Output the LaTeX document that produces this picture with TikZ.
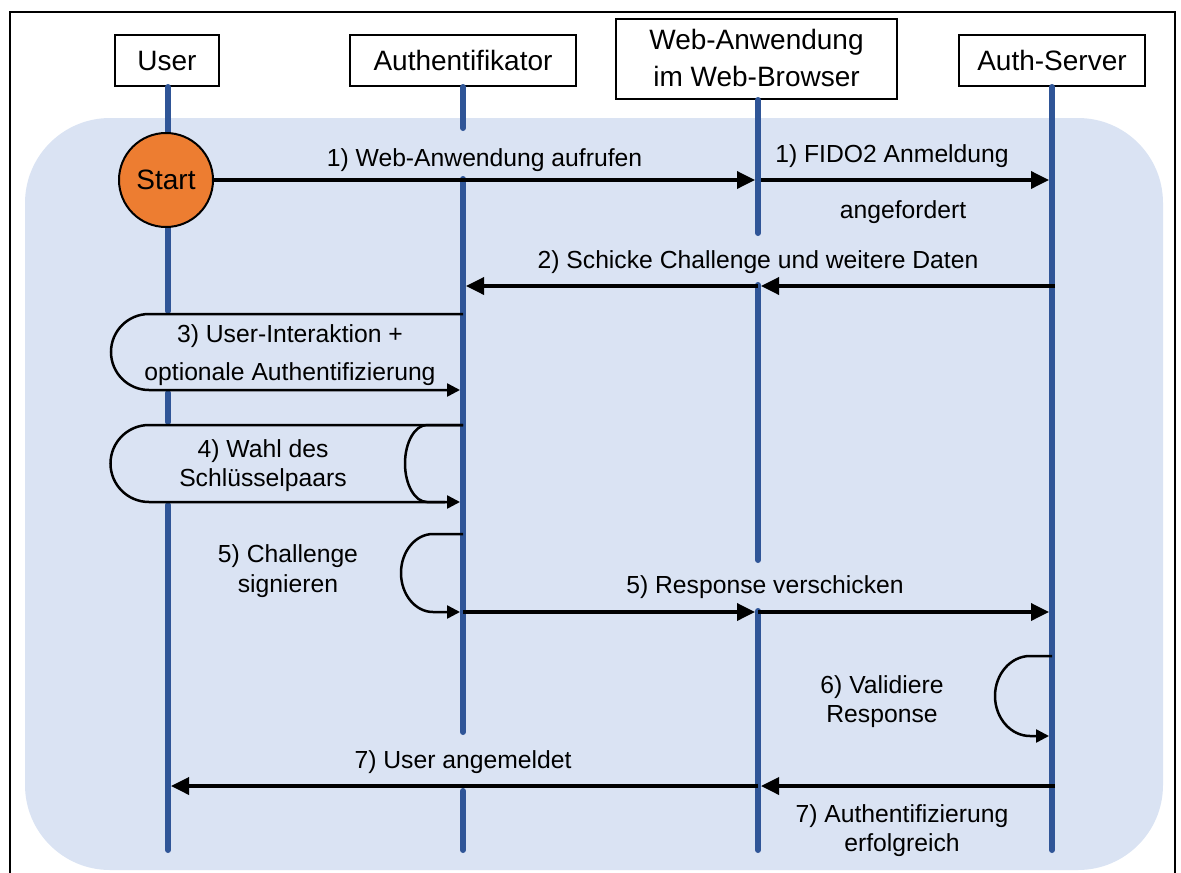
\documentclass[tikz,border=0pt]{standalone}
\usepackage{fontspec}
\setmainfont{Liberation Sans}
\usetikzlibrary{arrows.meta}
\definecolor{bgblue}{HTML}{DAE3F3}
\definecolor{lifeblue}{HTML}{2F5597}
\definecolor{startorange}{HTML}{ED7D31}
\tikzset{
  head/.style={draw, line width=2pt, fill=white, inner sep=0pt, font=\fontsize{28}{32}\selectfont},
  htext/.style={inner sep=0pt, anchor=base, font=\fontsize{28}{32}\selectfont},
  lbl/.style={inner sep=0pt, anchor=base, font=\fontsize{24.7}{29}\selectfont},
  life/.style={draw=lifeblue, line width=6pt, line cap=round},
  msg/.style={line width=3.5pt, -{Triangle[length=18pt,width=17pt]}},
  selfmsg/.style={line width=2.5pt, -{Triangle[length=13pt,width=13pt]}},
}
\begin{document}
\begin{tikzpicture}[x=1pt, y=-1pt]
\useasboundingbox (0,0) rectangle (1181,873);

% frame and background panel
\draw[line width=2pt] (10,873) -- (10,12) -- (1175,12) -- (1175,873);
\fill[bgblue, rounded corners=85pt] (25,118) rectangle (1163,870);

% participants
\node[head, minimum width=104pt, minimum height=51pt, text height=20pt, text depth=0pt] (user) at (167,60.5) {User};
\node[head, minimum width=226pt, minimum height=51pt, text height=20pt, text depth=0pt] (auth) at (463,60.5) {Authentifikator};
\node[head, minimum width=281pt, minimum height=80pt] (web) at (756.5,59) {};
\node[htext] (webl1) at (756.5,49) {Web-Anwendung};
\node[htext] (webl2) at (756.5,86) {im Web-Browser};
\node[head, minimum width=186pt, minimum height=51pt, text height=20pt, text depth=0pt] (srv) at (1052,60.5) {Auth-Server};

% lifeline break points
\coordinate (u1) at (168,311);
\coordinate (u2) at (168,393);
\coordinate (u3) at (168,422);
\coordinate (u4) at (168,505);
\coordinate (uend) at (168,850);
\coordinate (a1) at (463,128);
\coordinate (a2) at (463,179);
\coordinate (a3) at (463,732);
\coordinate (a4) at (463,791);
\coordinate (aend) at (463,850);
\coordinate (w1) at (758,233);
\coordinate (w2) at (758,285);
\coordinate (w3) at (758,560);
\coordinate (w4) at (758,611);
\coordinate (wend) at (758,850);
\coordinate (send) at (1052,850);

% lifelines
\draw[life] (uend |- user.south) -- (u1);
\draw[life] (u2) -- (u3);
\draw[life] (u4) -- (uend);
\draw[life] (aend |- auth.south) -- (a1);
\draw[life] (a2) -- (a3);
\draw[life] (a4) -- (aend);
\draw[life] (wend |- web.south) -- (w1);
\draw[life] (w2) -- (w3);
\draw[life] (w4) -- (wend);
\draw[life] (send |- srv.south) -- (send);

% start
\node[circle, draw, line width=2pt, fill=startorange, minimum size=94pt, inner sep=0pt,
      font=\fontsize{28}{32}\selectfont] (start) at (166,180) {Start};

% message anchors on the lifelines
\coordinate (w180) at (755,180);
\coordinate (w180r) at (761,180);
\coordinate (s180) at (1049,180);
\coordinate (s286) at (1055,286);
\coordinate (w286) at (761,286);
\coordinate (w286l) at (758,286);
\coordinate (a286) at (466,286);
\coordinate (a612) at (463,612);
\coordinate (w612) at (755,612);
\coordinate (w612r) at (758,612);
\coordinate (s612) at (1049,612);
\coordinate (s786) at (1055,786);
\coordinate (w786) at (761,786);
\coordinate (w786l) at (758,786);
\coordinate (u786) at (171,786);

% 1
\draw[msg] (start.east) -- (w180);
\draw[msg] (w180r) -- (s180);
% 2
\draw[msg] (s286) -- (w286);
\draw[msg] (w286l) -- (a286);
% 3
\coordinate (a314) at (463,314);
\coordinate (a390) at (460,390);
\draw[selfmsg] (a314) -- (149,314) arc[start angle=90, end angle=270, radius=38pt] -- (a390);
% 4
\coordinate (a425) at (463,425);
\coordinate (a502) at (460,502);
\draw[selfmsg] (a425) -- (149,425) arc[start angle=90, end angle=270, radius=38.5pt] -- (a502);
\draw[line width=2.5pt] (a425) -- (427,425) .. controls (414.9,425) and (405,442.3) .. (405,463.5)
  .. controls (405,484.7) and (414.9,502) .. (427,502) -- (445,502);
% 5
\coordinate (a534) at (463,534);
\coordinate (a612l) at (460,612);
\draw[selfmsg] (a534) -- (433,534) .. controls (415.4,534) and (401,551.5) .. (401,573)
  .. controls (401,594.5) and (415.4,612) .. (433,612) -- (a612l);
\draw[msg] (a612) -- (w612);
\draw[msg] (w612r) -- (s612);
% 6
\coordinate (s656) at (1052,656);
\coordinate (s736) at (1049,736);
\draw[selfmsg] (s656) -- (1030,656) .. controls (1010.75,656) and (995,674) .. (995,696)
  .. controls (995,718) and (1010.75,736) .. (1030,736) -- (s736);
% 7
\draw[msg] (s786) -- (w786);
\draw[msg] (w786l) -- (u786);

% labels
\node[lbl] (t1a) at (484.5,166) {1) Web-Anwendung aufrufen};
\node[lbl] (t1b) at (892,162) {1) FIDO2 Anmeldung};
\node[lbl] (t1c) at (903,218) {angefordert};
\node[lbl] (t2) at (758,268) {2) Schicke Challenge und weitere Daten};
\node[lbl] (t3a) at (290,342) {3) User-Interaktion +};
\node[lbl] (t3b) at (290,380) {optionale Authentifizierung};
\node[lbl] (t4a) at (263,457) {4) Wahl des};
\node[lbl] (t4b) at (263,486) {Schlüsselpaars};
\node[lbl] (t5a) at (288,562) {5) Challenge};
\node[lbl] (t5b) at (288,592) {signieren};
\node[lbl] (t5c) at (765,593) {5) Response verschicken};
\node[lbl] (t6a) at (882,693) {6) Validiere};
\node[lbl] (t6b) at (882,722) {Response};
\node[lbl] (t7a) at (463,768) {7) User angemeldet};
\node[lbl] (t7b) at (902,822) {7) Authentifizierung};
\node[lbl] (t7c) at (902,851) {erfolgreich};
\end{tikzpicture}
\end{document}
